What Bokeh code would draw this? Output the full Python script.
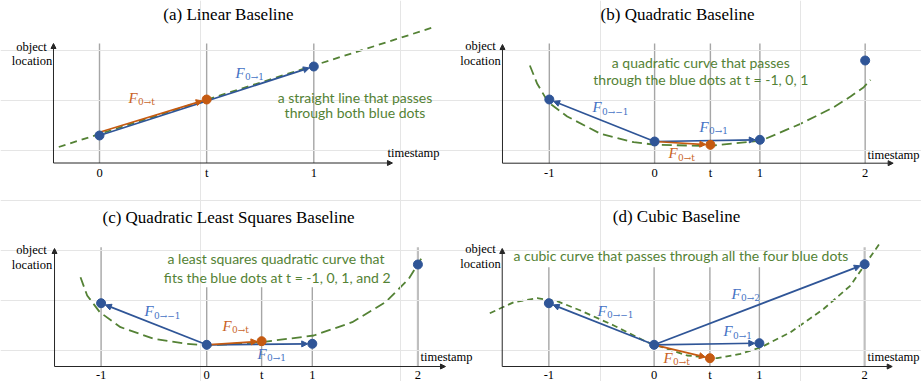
import math
from bokeh.plotting import figure
from bokeh.models import Range1d, Arrow, NormalHead, ColumnDataSource
from bokeh.core.properties import value
from bokeh.embed import file_html
from bokeh.resources import INLINE

W, H = 921, 381
M = 0            # screen -> figure offset
LOC_PX = 10.0    # pixels per unit of "object location"

SERIF = "Liberation Serif, Times New Roman, serif"
BLUE = "#2F5597"
BLUE_TXT = "#4472C4"
ORANGE = "#C55A11"
ORANGE_TXT = "#C9631F"
GREEN = "#548235"
GRID = "#A6A6A6"
GRID2 = "#BFBFBF"
AXIS = "#262626"

# ---------------- data (time, object location) ----------------
titles = ["(a) Linear Baseline", "(b) Quadratic Baseline",
          "(c) Quadratic Least Squares Baseline", "(d) Cubic Baseline"]

# (a) linear
a_blue_t = [0, 1]
a_blue_loc = [2.75, 9.65]
a_t = 0.50
a_orange_loc = 6.35
a_curve_t = [-0.19, 1.555]
a_curve_loc = [1.6, 13.55]
a_ticks = [0, a_t, 1]
a_tick_labels = ["0", "t", "1"]

# (b) quadratic
b_blue_t = [-1, 0, 1, 2]
b_blue_loc = [6.37, 2.17, 2.34, 10.27]
b_t = 0.53
b_orange_loc = 1.84
b_curve_t = [-1.185, -1.115, -1.011, -0.830, -0.514, -0.198, 0.009, 0.436,
             0.562, 1.015, 1.386, 1.702, 1.861, 1.987, 2.051]
b_curve_loc = [9.77, 7.94, 6.10, 4.67, 2.94, 2.10, 1.84, 1.74,
               1.77, 2.27, 3.94, 5.60, 6.67, 7.60, 8.34]
b_ticks = [-1, 0, b_t, 1, 2]
b_tick_labels = ["-1", "0", "t", "1", "2"]

# (c) quadratic least squares
c_blue_t = [-1, 0, 1, 2]
c_blue_loc = [6.33, 2.17, 2.27, 10.2]
c_t = 0.52
c_orange_loc = 2.53
c_curve_t = [-1.195, -1.132, -1.012, -0.816, -0.501, -0.185, 0.010, 0.519,
             1.014, 1.378, 1.693, 1.914, 2.031]
c_curve_loc = [8.93, 7.10, 5.43, 3.93, 2.77, 2.27, 2.10, 2.43,
               3.10, 4.43, 6.43, 8.77, 10.77]
c_ticks = [-1, 0, c_t, 1, 2]
c_tick_labels = ["-1", "0", "t", "1", "2"]

# (d) cubic
d_blue_t = [-1, 0, 1, 2]
d_blue_loc = [6.33, 2.17, 2.33, 10.23]
d_t = 0.53
d_orange_loc = 0.83
d_curve_t = [-1.561, -1.333, -1.111, -0.921, -0.699, -0.383, -0.066, 0.314,
             0.599, 0.821, 1.017, 1.296, 1.612, 1.866, 1.986, 2.151]
d_curve_loc = [5.33, 6.43, 6.83, 6.53, 5.60, 4.10, 2.43, 1.10,
               0.83, 1.27, 1.93, 3.43, 5.77, 8.10, 9.93, 12.43]
d_ticks = [-1, 0, d_t, 1, 2]
d_tick_labels = ["-1", "0", "t", "1", "2"]

notes = {
    "a": ["a straight line that passes", "through both blue dots"],
    "b": ["a quadratic curve that passes", "through the blue dots at t = -1, 0, 1"],
    "c": ["a least squares quadratic curve that", "fits the blue dots at t = -1, 0, 1, and 2"],
    "d": ["a cubic curve that passes through all the four blue dots"],
}

# ---------------- layout of the four panels ----------------
panels = {
    "a": dict(origin=99.0, ux=214.3, axis=162.5, yax_t=-0.2147, xend_t=1.367, ytop=11.95,
              grid_top=[11.95, 11.95, 11.95], grid_w=[1.4, 1.4, 1.4], grid_c=[GRID] * 3,
              dash="7 5", blue_t=a_blue_t, blue_loc=a_blue_loc, t=a_t, o_loc=a_orange_loc,
              ct=a_curve_t, cl=a_curve_loc, ticks=a_ticks, tl=a_tick_labels, tl_y=-0.95,
              arrows=[1], o_off=0.32),
    "b": dict(origin=654.1, ux=105.28, axis=162.7, yax_t=-1.445, xend_t=2.266, ytop=11.87,
              grid_top=[11.97] * 5, grid_w=[1.4] * 5, grid_c=[GRID] * 5,
              dash="10 5", blue_t=b_blue_t, blue_loc=b_blue_loc, t=b_t, o_loc=b_orange_loc,
              ct=b_curve_t, cl=b_curve_loc, ticks=b_ticks, tl=b_tick_labels, tl_y=-0.95,
              arrows=[0, 2], o_off=0.0),
    "c": dict(origin=206.2, ux=105.61, axis=366.0, yax_t=-1.441, xend_t=2.261, ytop=11.8,
              grid_top=[11.93, 7.93, 7.93, 7.93, 11.93], grid_w=[1.4, 1.4, 1.4, 1.4, 2.2],
              grid_c=[GRID, GRID, GRID, GRID, GRID2],
              dash="10 5", blue_t=c_blue_t, blue_loc=c_blue_loc, t=c_t, o_loc=c_orange_loc,
              ct=c_curve_t, cl=c_curve_loc, ticks=c_ticks, tl=c_tick_labels, tl_y=-0.82,
              arrows=[0, 2], o_off=0.0),
    "d": dict(origin=653.62, ux=105.26, axis=366.0, yax_t=-1.443, xend_t=2.262, ytop=11.8,
              grid_top=[9.93, 9.93, 9.93, 9.93, 11.93], grid_w=[1.4, 1.4, 1.4, 1.4, 2.2],
              grid_c=[GRID, GRID, GRID, GRID, GRID2],
              dash="6 4", blue_t=d_blue_t, blue_loc=d_blue_loc, t=d_t, o_loc=d_orange_loc,
              ct=d_curve_t, cl=d_curve_loc, ticks=d_ticks, tl=d_tick_labels, tl_y=-0.82,
              arrows=[0, 2, 3], o_off=0.0),
}

p = figure(width=W, height=H, x_range=Range1d(0, W), y_range=Range1d(H, 0),
           x_axis_location=None, y_axis_location=None, toolbar_location=None,
           output_backend="svg", min_border=0, outline_line_color=None,
           background_fill_color="white", border_fill_color="white")

exr, eyr = {}, {}
for k, g in panels.items():
    fx0 = g["origin"] - M
    fy0 = g["axis"] - M
    exr[k] = Range1d(-fx0 / g["ux"], (W - fx0) / g["ux"])
    eyr[k] = Range1d(-(H - fy0) / LOC_PX, fy0 / LOC_PX)
p.extra_x_ranges = exr
p.extra_y_ranges = eyr


def arrow(k, t0, l0, t1, l1, color, width=1.7, shorten=4.6, head=6, level="underlay"):
    g = panels[k]
    dx = (t1 - t0) * g["ux"]
    dy = (l1 - l0) * LOC_PX
    L = math.hypot(dx, dy)
    f = shorten / L if L > 0 else 0
    a = Arrow(x_start=t0, y_start=l0, x_end=t1 - f * (t1 - t0), y_end=l1 - f * (l1 - l0),
              line_color=color, line_width=width,
              end=NormalHead(size=head, fill_color=color, line_color=color, line_width=1),
              x_range_name=k, y_range_name=k, level=level)
    p.add_layout(a)


for k, g in panels.items():
    rk = dict(x_range_name=k, y_range_name=k)
    # grid lines at the time stamps
    src = ColumnDataSource(dict(x=g["ticks"], y0=[0] * len(g["ticks"]), y1=g["grid_top"],
                                w=g["grid_w"], c=g["grid_c"]))
    p.segment(x0="x", y0="y0", x1="x", y1="y1", line_width="w", line_color="c",
              source=src, level="image", **rk)
    # axes
    arrow(k, g["yax_t"], 0, g["xend_t"], 0, AXIS, width=1, shorten=0, head=5)
    arrow(k, g["yax_t"], 0, g["yax_t"], g["ytop"], AXIS, width=1, shorten=0, head=5)
    # fitted curve
    p.line(g["ct"], g["cl"], line_color=GREEN, line_width=1.8, line_dash=g["dash"],
           level="image", **rk)
    # flow arrows from t=0
    i0 = g["blue_t"].index(0)
    t0, l0 = g["blue_t"][i0], g["blue_loc"][i0]
    for j in g["arrows"]:
        arrow(k, t0, l0, g["blue_t"][j], g["blue_loc"][j], BLUE)
    arrow(k, t0, l0 + g["o_off"], g["t"], g["o_loc"], ORANGE)
    # dots
    p.scatter(g["blue_t"], g["blue_loc"], size=9, fill_color=BLUE, line_color=BLUE, **rk)
    p.scatter([g["t"]], [g["o_loc"]], size=9, fill_color=ORANGE, line_color=ORANGE, **rk)
    # tick labels
    p.text(g["ticks"], [g["tl_y"]] * len(g["ticks"]), text=g["tl"],
           text_font=value(SERIF), text_font_size="12.5px", text_align="center",
           text_baseline="middle", text_color="black", **rk)


def S(x, y):
    return x - M, y - M


def txt(items, font, size, color, align="center", style="normal"):
    xs = [S(x, y)[0] for x, y, _ in items]
    ys = [S(x, y)[1] for x, y, _ in items]
    p.text(xs, ys, text=[t for _, _, t in items], text_font=value(font), text_font_size=size,
           text_color=color, text_align=align, text_baseline="middle", text_font_style=style)


# titles
txt([(228, 14, titles[0]), (677, 14, titles[1]), (228, 216.5, titles[2]), (676, 216, titles[3])],
    SERIF, "17px", "black")
# axis names
txt([(31, 46, "object"), (31.5, 60, "location"), (480, 45, "object"), (480, 60, "location"),
     (31, 249, "object"), (31.5, 264, "location"), (480, 248, "object"), (480, 263, "location")],
    SERIF, "12.5px", "black")
txt([(387, 152.5, "timestamp"), (867, 154, "timestamp"), (420, 356, "timestamp"),
     (867, 356, "timestamp")], SERIF, "12.5px", "black", align="left")
# green notes
txt([(354.5, 96.7, notes["a"][0]), (354.5, 112.3, notes["a"][1]),
     (700.3, 62.3, notes["b"][0]), (700.3, 79, notes["b"][1]),
     (275.5, 258.3, notes["c"][0]), (276.7, 276.7, notes["c"][1]),
     (680.5, 255, notes["d"][0])], "Lato", "14px", GREEN)

# flow labels F_{0->x}
labels = [
    (128, 97, "0→t", ORANGE_TXT), (235, 72, "0→1", BLUE_TXT),
    (592, 106.7, "0→−1", BLUE_TXT), (699, 126, "0→1", BLUE_TXT), (668, 152.5, "0→t", ORANGE_TXT),
    (144, 310.5, "0→−1", BLUE_TXT), (222, 325, "0→t", ORANGE_TXT), (257, 353, "0→1", BLUE_TXT),
    (597, 310, "0→−1", BLUE_TXT), (731, 293, "0→2", BLUE_TXT), (723, 330.7, "0→1", BLUE_TXT),
    (663, 357, "0→t", ORANGE_TXT),
]
lsrc = ColumnDataSource(dict(x=[S(a, b)[0] for a, b, _, _ in labels],
                             y=[S(a, b)[1] for a, b, _, _ in labels],
                             sub=[s for _, _, s, _ in labels],
                             c=[c for _, _, _, c in labels]))
p.text("x", "y", text=value("F"), source=lsrc, text_color="c", text_font=value(SERIF),
       text_font_size="15px", text_font_style="italic", text_align="left", text_baseline="middle")
p.text("x", "y", text="sub", source=lsrc, text_color="c", text_font=value("DejaVu Serif"),
       text_font_size="9px", text_align="left", text_baseline="middle", x_offset=9.5, y_offset=4.5)

open("out.html", "w").write(file_html(p, INLINE))
